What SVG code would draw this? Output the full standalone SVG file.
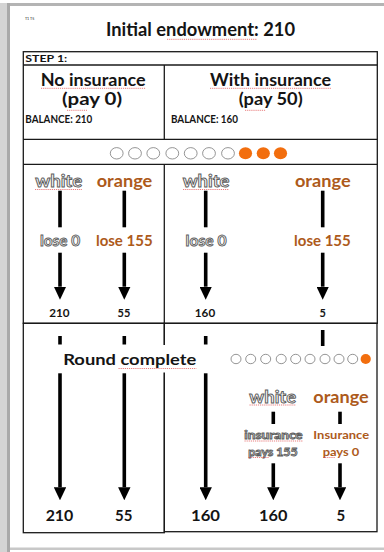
<svg xmlns="http://www.w3.org/2000/svg" width="384" height="552" viewBox="0 0 384 552">
<style>
text{font-family:Lato,"Liberation Sans",sans-serif;font-weight:bold;fill:#141414}
.c{text-anchor:middle}
.ol{fill:#fbfbfb;stroke:#5e5e5e;stroke-width:0.9}
.or{fill:#ad5a1b}
.bd{fill:none;stroke:#1a1a1a;stroke-width:1.3}
.bar{stroke:#000;stroke-width:3.6}
.arr{stroke:#000;stroke-width:3.6;marker-end:url(#ah)}
.sq{stroke:#e04848;stroke-width:0.7;stroke-dasharray:1.2 0.9;fill:none}
.dw{fill:#fff;stroke:#7a7a7a;stroke-width:0.8}
.do{fill:#f26e0e}
</style>
<defs>
<marker id="ah" markerUnits="userSpaceOnUse" viewBox="0 -6.2 13 12.4" markerWidth="13" markerHeight="12.4" refX="0" refY="0" orient="auto">
<path d="M0,-6.2 L13,0 L0,6.2 Z" fill="#000"/>
</marker>
</defs>
<rect x="0" y="0" width="384" height="552" fill="#fff"/>
<g id="page-frame">
<rect x="10" y="3" width="374" height="3" fill="#b4b4b4"/>
<rect x="0" y="3" width="10" height="549" fill="#d4d4d4"/>
<rect x="7" y="3" width="3" height="549" fill="#a9a9a9"/>
<rect x="10" y="547.5" width="374" height="2.5" fill="#c8c8c8"/>
</g>
<g id="header">
<text x="25" y="19.5" style="font-size:3.6px;font-weight:normal">T1 T5</text>
<text x="200.5" y="36" class="c" style="font-size:18px" textLength="189" lengthAdjust="spacingAndGlyphs">Initial endowment: 210</text>
</g>
<g id="table">
<rect class="bd" x="23.3" y="51.7" width="354" height="271.6"/>
<line class="bd" x1="23.3" y1="65" x2="377.3" y2="65"/>
<line class="bd" x1="164.3" y1="65" x2="164.3" y2="139.3"/>
<line class="bd" x1="23.3" y1="139.3" x2="377.3" y2="139.3"/>
<line class="bd" x1="23.3" y1="164.3" x2="377.3" y2="164.3"/>
<line class="bd" x1="164.3" y1="164.3" x2="164.3" y2="323.3"/>
<rect class="bd" x="23.3" y="323.3" width="141" height="209.4"/>
<rect class="bd" x="164.3" y="323.3" width="212.7" height="208.4"/>
</g>
<g id="step1">
<text x="25.3" y="61.7" style="font-size:10.2px" textLength="42" lengthAdjust="spacingAndGlyphs">STEP 1:</text>
</g>
<g id="no-insurance">
<text x="93.2" y="86" class="c" style="font-size:16.5px" textLength="105" lengthAdjust="spacingAndGlyphs">No insurance</text>
<text x="92" y="104.5" class="c" style="font-size:16.5px" textLength="60" lengthAdjust="spacingAndGlyphs">(pay 0)</text>
<text x="25.3" y="123" style="font-size:10.5px" textLength="67" lengthAdjust="spacingAndGlyphs">BALANCE: 210</text>
</g>
<g id="with-insurance">
<text x="270.5" y="86" class="c" style="font-size:16.5px" textLength="121" lengthAdjust="spacingAndGlyphs">With insurance</text>
<text x="270.7" y="104.5" class="c" style="font-size:16.5px" textLength="64" lengthAdjust="spacingAndGlyphs">(pay 50)</text>
<text x="171" y="123" style="font-size:10.5px" textLength="67" lengthAdjust="spacingAndGlyphs">BALANCE: 160</text>
</g>
<g id="balls-top">
<ellipse class="dw" cx="116.7" cy="153.3" rx="6.4" ry="5.7"/>
<ellipse class="dw" cx="135" cy="153.3" rx="6.4" ry="5.7"/>
<ellipse class="dw" cx="153.3" cy="153.3" rx="6.4" ry="5.7"/>
<ellipse class="dw" cx="172.3" cy="153.3" rx="6.4" ry="5.7"/>
<ellipse class="dw" cx="190.7" cy="153.3" rx="6.4" ry="5.7"/>
<ellipse class="dw" cx="209" cy="153.3" rx="6.4" ry="5.7"/>
<ellipse class="dw" cx="228" cy="153.3" rx="6.4" ry="5.7"/>
<ellipse class="do" cx="245.5" cy="153.3" rx="6.6" ry="6"/>
<ellipse class="do" cx="263.3" cy="153.3" rx="6.6" ry="6"/>
<ellipse class="do" cx="280.5" cy="153.3" rx="6.6" ry="6"/>
</g>
<g id="step-labels">
<text x="58.7" y="187.3" class="c ol" style="font-size:17px" textLength="47" lengthAdjust="spacingAndGlyphs">white</text>
<text x="124.5" y="187.3" class="c or" style="font-size:17px" textLength="55.6" lengthAdjust="spacingAndGlyphs">orange</text>
<text x="206" y="187.3" class="c ol" style="font-size:17px" textLength="46.7" lengthAdjust="spacingAndGlyphs">white</text>
<text x="322.8" y="187.3" class="c or" style="font-size:17px" textLength="55.7" lengthAdjust="spacingAndGlyphs">orange</text>
<text x="60" y="245.7" class="c ol" style="font-size:15px" textLength="40" lengthAdjust="spacingAndGlyphs">lose 0</text>
<text x="124.3" y="245.7" class="c or" style="font-size:15px" textLength="56.7" lengthAdjust="spacingAndGlyphs">lose 155</text>
<text x="206" y="245.7" class="c ol" style="font-size:15px" textLength="41" lengthAdjust="spacingAndGlyphs">lose 0</text>
<text x="322.4" y="245.7" class="c or" style="font-size:15px" textLength="56.7" lengthAdjust="spacingAndGlyphs">lose 155</text>
<text x="59.3" y="316.7" class="c" style="font-size:11px" textLength="20.3" lengthAdjust="spacingAndGlyphs">210</text>
<text x="124" y="316.7" class="c" style="font-size:11px">55</text>
<text x="205" y="316.7" class="c" style="font-size:11px" textLength="20.3" lengthAdjust="spacingAndGlyphs">160</text>
<text x="322.7" y="316.7" class="c" style="font-size:11px">5</text>
</g>
<g id="connectors">
<line class="bar" x1="60" y1="190.7" x2="60" y2="227.3"/>
<line class="bar" x1="124.3" y1="190.7" x2="124.3" y2="227.3"/>
<line class="bar" x1="205.7" y1="190.7" x2="205.7" y2="227.3"/>
<line class="bar" x1="322.7" y1="190.7" x2="322.7" y2="227.3"/>
<line class="arr" x1="60" y1="252.7" x2="60" y2="286.7"/>
<line class="arr" x1="124.3" y1="252.7" x2="124.3" y2="286.7"/>
<line class="arr" x1="205.7" y1="252.7" x2="205.7" y2="286.7"/>
<line class="arr" x1="322.7" y1="252.7" x2="322.7" y2="286.7"/>
<line class="bar" x1="60" y1="336" x2="60" y2="344.5"/>
<line class="bar" x1="124.3" y1="336" x2="124.3" y2="344.5"/>
<line class="bar" x1="205.7" y1="336" x2="205.7" y2="344.5"/>
<line class="bar" x1="322.7" y1="330" x2="322.7" y2="346"/>
<line class="arr" x1="60" y1="373.3" x2="60" y2="487.3"/>
<line class="arr" x1="124.3" y1="373.3" x2="124.3" y2="487.3"/>
<line class="arr" x1="205.7" y1="373.3" x2="205.7" y2="487.3"/>
<line class="bar" x1="273.3" y1="411.7" x2="273.3" y2="424"/>
<line class="bar" x1="340" y1="411.7" x2="340" y2="424"/>
<line class="arr" x1="273.3" y1="463.3" x2="273.3" y2="487.3"/>
<line class="arr" x1="340" y1="463.3" x2="340" y2="487.3"/>
</g>
<g id="round-complete">
<rect x="55" y="345" width="158" height="27.5" fill="#fff"/>
<text x="129.7" y="365" class="c" style="font-size:15px" textLength="133" lengthAdjust="spacingAndGlyphs">Round complete</text>
</g>
<g id="balls-bottom">
<ellipse class="dw" cx="236" cy="359" rx="5" ry="4.7"/>
<ellipse class="dw" cx="250.7" cy="359" rx="5" ry="4.7"/>
<ellipse class="dw" cx="265.7" cy="359" rx="5" ry="4.7"/>
<ellipse class="dw" cx="281.2" cy="359" rx="5" ry="4.7"/>
<ellipse class="dw" cx="295.7" cy="359" rx="5" ry="4.7"/>
<ellipse class="dw" cx="310" cy="359" rx="5" ry="4.7"/>
<ellipse class="dw" cx="325" cy="359" rx="5" ry="4.7"/>
<ellipse class="dw" cx="339" cy="359" rx="5" ry="4.7"/>
<ellipse class="dw" cx="352.7" cy="359" rx="5" ry="4.7"/>
<ellipse class="do" cx="365.7" cy="359" rx="5.1" ry="4.9"/>
</g>
<g id="insurance-branch">
<text x="272.7" y="403" class="c ol" style="font-size:17px" textLength="46.7" lengthAdjust="spacingAndGlyphs">white</text>
<text x="341" y="403" class="c or" style="font-size:17px" textLength="55.4" lengthAdjust="spacingAndGlyphs">orange</text>
<text x="273.5" y="439.3" class="c ol" style="font-size:11.5px" textLength="58.4" lengthAdjust="spacingAndGlyphs">insurance</text>
<text x="273" y="455.5" class="c ol" style="font-size:11.5px" textLength="49.4" lengthAdjust="spacingAndGlyphs">pays 155</text>
<text x="341.2" y="439.3" class="c or" style="font-size:11.5px" textLength="55.7" lengthAdjust="spacingAndGlyphs">Insurance</text>
<text x="341" y="455.5" class="c or" style="font-size:11.5px" textLength="36.7" lengthAdjust="spacingAndGlyphs">pays 0</text>
</g>
<g id="final-values">
<text x="59.5" y="520.7" class="c" style="font-size:15px" textLength="27.7" lengthAdjust="spacingAndGlyphs">210</text>
<text x="123.7" y="520.7" class="c" style="font-size:15px">55</text>
<text x="205.5" y="520.7" class="c" style="font-size:15px" textLength="29" lengthAdjust="spacingAndGlyphs">160</text>
<text x="273.2" y="520.7" class="c" style="font-size:15px" textLength="28.3" lengthAdjust="spacingAndGlyphs">160</text>
<text x="340.8" y="520.7" class="c" style="font-size:15px">5</text>
</g>
<g id="spellcheck">
<line class="sq" x1="167" y1="39.3" x2="257" y2="39.3"/>
<line class="sq" x1="41" y1="88.3" x2="146" y2="88.3"/>
<line class="sq" x1="210" y1="88.3" x2="331" y2="88.3"/>
<line class="sq" x1="67" y1="110.3" x2="87" y2="110.3"/>
<line class="sq" x1="245" y1="110.3" x2="266" y2="110.3"/>
<line class="sq" x1="35" y1="189.5" x2="82" y2="189.5"/>
<line class="sq" x1="183" y1="189.5" x2="229" y2="189.5"/>
<line class="sq" x1="118.5" y1="368.5" x2="196.5" y2="368.5"/>
<line class="sq" x1="249.5" y1="405" x2="296" y2="405"/>
<line class="sq" x1="244.5" y1="441" x2="302.5" y2="441"/>
<line class="sq" x1="248.5" y1="457.5" x2="269" y2="457.5"/>
<line class="sq" x1="323" y1="457.5" x2="335" y2="457.5"/>
</g>
</svg>
